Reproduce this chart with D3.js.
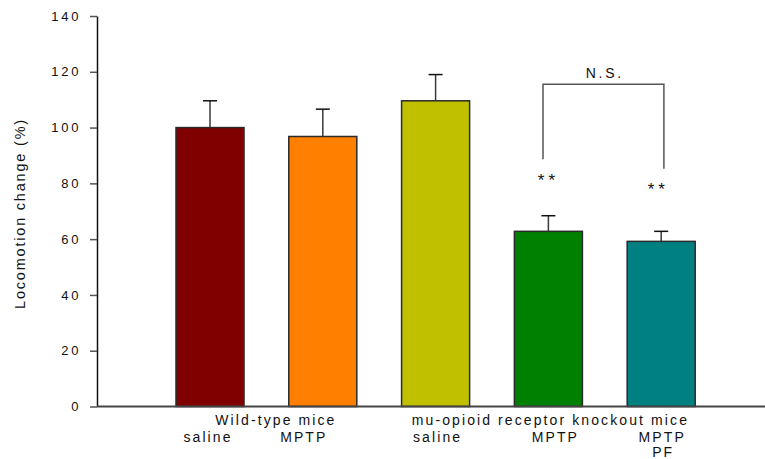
<!DOCTYPE html>
<html>
<head>
<meta charset="utf-8">
<script src="https://cdn.jsdelivr.net/npm/d3@7"></script>
<style>
  html, body { margin: 0; padding: 0; background: #fff; }
  svg { display: block; font-family: "Liberation Sans", Arial, sans-serif; }
</style>
</head>
<body>
<svg id="chart" width="765" height="459"></svg>
<script>
// Groups and treatment per bar
const groups = ["wt-saline", "wt-mptp", "ko-saline", "ko-mptp", "ko-mptp-pf"];
const treatments = ["saline", "MPTP", "saline", "MPTP", "MPTP"];
const values = [100, 96.8, 109.6, 62.8, 59.2];
const errors = [9.6, 9.8, 9.4, 5.6, 3.6];
const colors = ["#800000", "#ff8000", "#c0c000", "#008000", "#008080"];
const yTicks = [0, 20, 40, 60, 80, 100, 120, 140];
const genotypeLabels = ["Wild-type mice", "mu-opioid receptor knockout mice"];
const sigMarks = ["", "", "", "**", "**"];
const bracketLabel = "N.S.";

const svg = d3.select("#chart");

const y = d3.scaleLinear().domain([0, 140]).range([406.5, 16]);
const x = d3.scaleBand()
  .domain(groups)
  .range([119.6, 751.6])
  .paddingInner(0.397)
  .paddingOuter(0.5);
const cx = g => x(g) + x.bandwidth() / 2;

// Bars
svg.append("g").selectAll("rect")
  .data(groups)
  .join("rect")
  .attr("x", d => x(d))
  .attr("width", x.bandwidth())
  .attr("y", (d, i) => y(values[i]))
  .attr("height", (d, i) => y(0) - y(values[i]))
  .attr("fill", (d, i) => colors[i])
  .attr("stroke", "#2a2a2a")
  .attr("stroke-width", 1.5);

// Upper error bars
const eb = svg.append("g").attr("stroke", "#3a3a3a").attr("stroke-width", 1.5);
groups.forEach((g, i) => {
  eb.append("line")
    .attr("x1", cx(g)).attr("x2", cx(g))
    .attr("y1", y(values[i])).attr("y2", y(values[i] + errors[i]));
  eb.append("line")
    .attr("x1", cx(g) - 7).attr("x2", cx(g) + 7)
    .attr("y1", y(values[i] + errors[i])).attr("y2", y(values[i] + errors[i]))
    .attr("stroke", "#111");
});

// Y axis
const tickSpacing = 2.8;
const yAxis = d3.axisLeft(y).tickValues(yTicks).tickSize(7).tickPadding(11.5).tickSizeOuter(0);
const yg = svg.append("g").attr("transform", "translate(97,0)").call(yAxis);
yg.select(".domain").attr("stroke", "#111").attr("stroke-width", 1.5);
yg.selectAll(".tick line").attr("stroke", "#555").attr("stroke-width", 1.5);
yg.selectAll(".tick text")
  .attr("font-size", 13)
  .attr("font-family", "Liberation Sans, Arial, sans-serif")
  .attr("fill", "#111")
  .attr("letter-spacing", `${tickSpacing}px`)
  .attr("dx", tickSpacing);

// X axis baseline
svg.append("line")
  .attr("x1", 97).attr("x2", 765)
  .attr("y1", y(0)).attr("y2", y(0))
  .attr("stroke", "#444").attr("stroke-width", 2);

// Y axis title
svg.append("text")
  .attr("transform", "translate(24.5,213.5) rotate(-90)")
  .attr("text-anchor", "middle")
  .attr("font-size", 14.5)
  .attr("letter-spacing", "1.8px")
  .attr("fill", "#111")
  .text("Locomotion change (%)");

// Category labels
const labelStyle = sel => sel
  .attr("text-anchor", "middle")
  .attr("font-size", 14)
  .attr("letter-spacing", "2.1px")
  .attr("fill", "#111");

const rowOffsets = [-3, -20, 1, 6, 0];
treatments.forEach((t, i) => {
  svg.append("text").call(labelStyle)
    .attr("x", cx(groups[i]) + rowOffsets[i] + 1)
    .attr("y", 442)
    .text(t);
});
svg.append("text").call(labelStyle)
  .attr("x", cx(groups[4]) + 2)
  .attr("y", 457)
  .text("PF");

svg.append("text").call(labelStyle)
  .attr("x", (cx(groups[0]) + cx(groups[1])) / 2 + 9.5)
  .attr("y", 425)
  .text(genotypeLabels[0]);
svg.append("text").call(labelStyle)
  .attr("x", (cx(groups[2]) + cx(groups[4])) / 2 + 2)
  .attr("y", 425)
  .text(genotypeLabels[1]);

// Significance stars (baseline heights in axis units)
const starLevel = { "ko-mptp": 78.9, "ko-mptp-pf": 75.8 };
const starShift = { "ko-mptp": 0, "ko-mptp-pf": -2.9 };
groups.forEach((g, i) => {
  if (!sigMarks[i]) return;
  svg.append("text")
    .attr("x", cx(g) + starShift[g])
    .attr("y", y(starLevel[g]))
    .attr("text-anchor", "middle")
    .attr("font-size", 17)
    .attr("letter-spacing", "4px")
    .attr("fill", "#111")
    .text(sigMarks[i]);
});

// N.S. bracket between the two knockout MPTP groups
const bx1 = cx(groups[3]) - 5.4, bx2 = cx(groups[4]) + 2.7;
svg.append("path")
  .attr("d", `M${bx1},${y(88.6)}V${y(115.5)}H${bx2}V${y(85.2)}`)
  .attr("fill", "none")
  .attr("stroke", "#555")
  .attr("stroke-width", 1.5);
svg.append("text")
  .attr("x", (bx1 + bx2) / 2 + 1.4)
  .attr("y", 77.5)
  .attr("text-anchor", "middle")
  .attr("font-size", 14)
  .attr("letter-spacing", "2.8px")
  .attr("fill", "#111")
  .text(bracketLabel);
</script>
</body>
</html>
